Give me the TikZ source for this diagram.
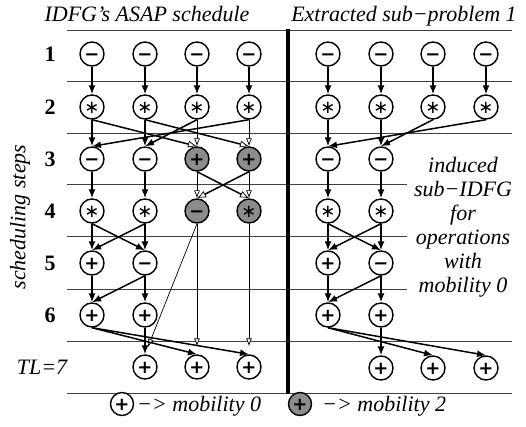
\documentclass[tikz,border=0pt]{standalone}
\usepackage{fontspec}
\setmainfont{Liberation Serif}[ItalicFont={Liberation Serif Italic},BoldFont={Liberation Serif Bold}]
\newfontfamily\symfont{DejaVu Sans}
\usetikzlibrary{arrows.meta}
\newcommand\OpSym[1]{\smash{\raisebox{-0.36em}{#1}}}
\newcommand\OpPlus{\OpSym{+}}
\newcommand\OpMinus{\OpSym{−}}
\newcommand\OpStar{\OpSym{\mdseries∗}}
\begin{document}
\begin{tikzpicture}[x=1pt,y=-1pt,
  op/.style={circle,draw,line width=1.4pt,minimum size=24pt,inner sep=0pt,fill=white,
    font=\symfont\bfseries\fontsize{18}{18}\selectfont},
  mob/.style={op,fill=black!45},
  gridline/.style={line width=0.8pt,black!75},
  ea/.style={line width=1.5pt,-{Latex[length=9pt,width=7pt]}},
  eo/.style={line width=1.5pt,-{Latex[open,length=9pt,width=7pt,line width=0.7pt,fill=white]}},
  et/.style={line width=0.7pt,-{Latex[open,length=8pt,width=6pt,fill=white]}},
  lab/.style={font=\fontsize{22}{24}\selectfont\itshape,inner sep=0pt},
  rowlab/.style={font=\fontsize{22}{24}\selectfont\bfseries,inner sep=0pt},
]
\useasboundingbox (0,0) rectangle (526,427);
\fill[white] (0,0) rectangle (526,427);

% grid lines
\foreach \y in {30,81,133,341,393} \draw[gridline] (67,\y) -- (512,\y);
\foreach \y in {184,236,289} \draw[gridline] (67,\y) -- (407,\y);
\draw[line width=3.5pt] (288,29) -- (288,394);

% titles
\node[lab,anchor=base] (t1) at (147,22) {IDFG’s ASAP schedule};
\node[lab,anchor=base] (t2) at (404,22) {Extracted sub−problem 1};

% row labels
\node[rowlab] (r1) at (50,54) {1};
\node[rowlab] (r2) at (50,107) {2};
\node[rowlab] (r3) at (50,159) {3};
\node[rowlab] (r4) at (50,211) {4};
\node[rowlab] (r5) at (50,263) {5};
\node[rowlab] (r6) at (50,315) {6};
\node[lab] (r7) at (42,367) {TL=7};
\node[lab,rotate=90] (ss) at (20,217) {scheduling steps};

% ---------- left graph ----------
\foreach \c/\x in {1/92,2/145,3/197,4/249}{
  \node[op] (a1\c) at (\x,54) {\OpMinus};
  \node[op] (a2\c) at (\x,107) {\OpStar};
}
\node[op]  (a31) at (92,159)  {\OpMinus};
\node[op]  (a32) at (145,159) {\OpMinus};
\node[mob] (a33) at (197,159) {\OpPlus};
\node[mob] (a34) at (249,159) {\OpPlus};
\node[op]  (a41) at (92,211)  {\OpStar};
\node[op]  (a42) at (145,211) {\OpStar};
\node[mob] (a43) at (197,211) {\OpMinus};
\node[mob] (a44) at (249,211) {\OpStar};
\node[op]  (a51) at (92,263)  {\OpPlus};
\node[op]  (a52) at (145,263) {\OpMinus};
\node[op]  (a61) at (92,315)  {\OpPlus};
\node[op]  (a62) at (145,315) {\OpPlus};
\node[op]  (a72) at (145,367) {\OpPlus};
\node[op]  (a73) at (197,367) {\OpPlus};
\node[op]  (a74) at (249,367) {\OpPlus};

\foreach \c in {1,2,3,4} \draw[ea] (a1\c.south) -- (a2\c.north);
% thin edges into / out of mobility-2 operations
\draw[et] (a23.south) -- (a33.north);
\draw[et] (a24.south) -- (a34.north);
\draw[et] (a33.south) -- (a43.north);
\draw[et] (a34.south) -- (a44.north);
\draw[et,shorten >=8pt] (a43.south) -- (a72.north);
\draw[et,shorten >=8pt] (a43.south) -- (a73.north);
\draw[et,shorten >=8pt] (a44.south) -- (a74.north);
% thick edges
\draw[ea] (a21.south) -- (a31.north);
\draw[ea] (a22.south) -- (a32.north);
\draw[eo] (a21.south) -- (a33.north);
\draw[eo] (a22.south) -- (a34.north);
\draw[ea] (a24.south) -- (a31.north);
\draw[ea] (a23.south) -- (a32.north);
\draw[ea] (a31.south) -- (a41.north);
\draw[ea] (a32.south) -- (a42.north);
\draw[eo] (a33.south) -- (a44.north);
\draw[eo] (a34.south) -- (a43.north);
\draw[ea] (a41.south) -- (a51.north);
\draw[ea] (a42.south) -- (a52.north);
\draw[ea] (a41.south) -- (a52.north);
\draw[ea] (a42.south) -- (a51.north);
\draw[ea] (a51.south) -- (a61.north);
\draw[ea] (a52.south) -- (a62.north);
\draw[ea] (a52.south) -- (a61.north);
\draw[ea] (a62.south) -- (a72.north);
\draw[ea] (a61.south) -- (a73.north);
\draw[ea] (a61.south) -- (a74.north);

% ---------- right graph ----------
\foreach \c/\x in {1/328,2/381,3/433,4/486}{
  \node[op] (b1\c) at (\x,54) {\OpMinus};
  \node[op] (b2\c) at (\x,107) {\OpStar};
  \draw[ea] (b1\c.south) -- (b2\c.north);
}
\node[op] (b31) at (328,159) {\OpMinus};
\node[op] (b32) at (381,159) {\OpMinus};
\node[op] (b41) at (328,211) {\OpStar};
\node[op] (b42) at (381,211) {\OpStar};
\node[op] (b51) at (328,263) {\OpPlus};
\node[op] (b52) at (381,263) {\OpMinus};
\node[op] (b61) at (328,315) {\OpPlus};
\node[op] (b62) at (381,315) {\OpPlus};
\node[op] (b72) at (381,368) {\OpPlus};
\node[op] (b73) at (433,368) {\OpPlus};
\node[op] (b74) at (486,368) {\OpPlus};

\draw[ea] (b21.south) -- (b31.north);
\draw[ea] (b22.south) -- (b32.north);
\draw[ea] (b24.south) -- (b31.north);
\draw[ea] (b23.south) -- (b32.north);
\draw[ea] (b31.south) -- (b41.north);
\draw[ea] (b32.south) -- (b42.north);
\draw[ea] (b41.south) -- (b51.north);
\draw[ea] (b42.south) -- (b52.north);
\draw[ea] (b41.south) -- (b52.north);
\draw[ea] (b42.south) -- (b51.north);
\draw[ea] (b51.south) -- (b61.north);
\draw[ea] (b52.south) -- (b62.north);
\draw[ea] (b52.south) -- (b61.north);
\draw[ea] (b62.south) -- (b72.north);
\draw[ea] (b61.south) -- (b73.north);
\draw[ea] (b61.south) -- (b74.north);

\node[lab,align=center] (note) at (463,227) {induced\\sub−IDFG\\for\\operations\\with\\mobility 0};

% ---------- legend ----------
\node[op,minimum size=23pt] (lg0) at (122,404) {\OpPlus};
\node[lab,anchor=base west] (lt0) at (137,411) {−> mobility 0};
\node[mob,minimum size=23pt] (lg2) at (300,404) {\OpPlus};
\node[lab,anchor=base west] (lt2) at (322,411) {−> mobility 2};
\end{tikzpicture}
\end{document}
